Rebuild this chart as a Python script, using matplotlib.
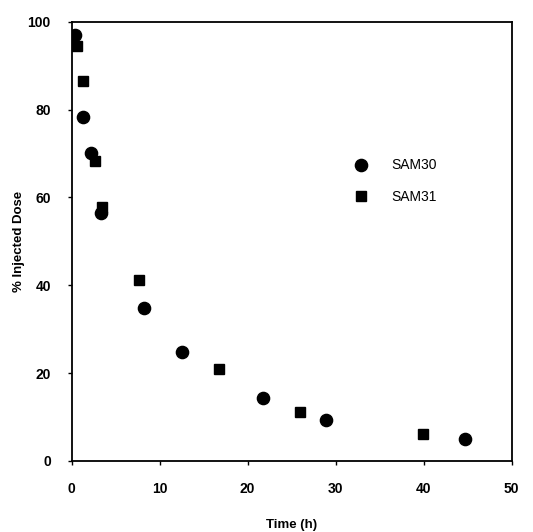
import matplotlib
matplotlib.use("Agg")
import matplotlib.pyplot as plt

plt.rcParams['font.family'] = ['Liberation Sans', 'DejaVu Sans']

sam30_t = [0.4, 1.3, 2.2, 3.3, 8.2, 12.5, 21.7, 28.9, 44.7]
sam30_d = [97.0, 78.3, 70.2, 56.4, 34.9, 24.9, 14.4, 9.3, 4.9]
sam31_t = [0.6, 1.3, 2.6, 3.5, 7.7, 16.7, 25.9, 39.9]
sam31_d = [94.5, 86.4, 68.2, 57.8, 41.2, 21.0, 11.1, 6.1]

xticks = [0, 10, 20, 30, 40, 50]
yticks = [0, 20, 40, 60, 80, 100]

fig = plt.figure(figsize=(5.33, 5.32), dpi=100)
ax = fig.add_axes([0.1345, 0.1335, 0.8255, 0.8257])

ax.plot(sam30_t, sam30_d, linestyle='none', marker='o', markersize=8.8,
        color='black', label='SAM30')
ax.plot(sam31_t, sam31_d, linestyle='none', marker='s', markersize=7.4,
        color='black', label='SAM31')

ax.set_xlim(0, 50)
ax.set_ylim(0, 100)
ax.set_xticks(xticks)
ax.set_yticks(yticks)
ax.tick_params(direction='out', length=3, width=1, labelsize=10, pad=12)
for lab in ax.get_xticklabels() + ax.get_yticklabels():
    lab.set_fontweight('bold')
for s in ax.spines.values():
    s.set_linewidth(1.3)

ax.set_xlabel('Time (h)', fontsize=9.5, fontweight='bold', labelpad=17)
ax.set_ylabel('% Injected Dose', fontsize=9.5, fontweight='bold', labelpad=2)

ax.legend(loc='center left', bbox_to_anchor=(0.61, 0.637), frameon=False,
          fontsize=10, handletextpad=1.2, labelspacing=1.25, borderpad=0)

fig.savefig('out.png', dpi=100)
